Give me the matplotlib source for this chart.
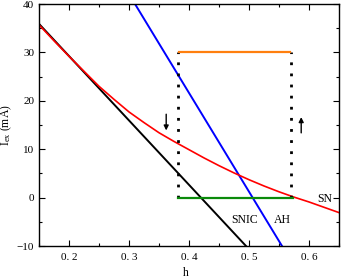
import matplotlib
matplotlib.use("Agg")
import matplotlib.pyplot as plt
from matplotlib.ticker import MultipleLocator

plt.rcParams["font.family"] = ["Liberation Serif", "DejaVu Serif"]
plt.rcParams["mathtext.fontset"] = "custom"
plt.rcParams["mathtext.rm"] = "Liberation Serif"
plt.rcParams["mathtext.it"] = "Liberation Serif"

# SNIC (black) and AH (blue) lines, end points
snic_h = [0.15, 0.495]
snic_i = [35.9, -10.0]
ah_h = [0.31, 0.555]
ah_i = [40.0, -10.0]

# SN curve (red)
sn_h = [0.150, 0.175, 0.200, 0.225, 0.250, 0.275, 0.300, 0.325, 0.350, 0.375,
        0.400, 0.425, 0.450, 0.475, 0.500, 0.525, 0.550, 0.575, 0.600, 0.625, 0.650]
sn_i = [35.7, 32.4, 29.2, 26.1, 23.0, 20.3, 17.7, 15.5, 13.4, 11.6,
        9.9, 8.2, 6.6, 5.1, 3.7, 2.4, 1.2, 0.1, -0.9, -2.0, -3.1]

# hysteresis loop
loop_left, loop_right = 0.381, 0.570
orange_h = [0.384, 0.568]
orange_i = [30, 30]
green_h = [0.381, 0.573]
green_i = [0, 0]

fig = plt.figure(figsize=(3.41, 2.78), dpi=100)
ax = fig.add_axes([39 / 341, 1 - 246 / 278, 300 / 341, 242 / 278])

ax.plot(snic_h, snic_i, color="black", lw=1.4)
ax.plot(ah_h, ah_i, color="blue", lw=1.4)
ax.plot(sn_h, sn_i, color="red", lw=1.2)
ax.plot([loop_left, loop_left], [0, 30], color="black", lw=2, ls=(0, (1, 3)))
ax.plot([loop_right, loop_right], [0, 30], color="black", lw=2, ls=(0, (1, 3)))
ax.plot(orange_h, orange_i, color="#ff7f0e", lw=1.6)
ax.plot(green_h, green_i, color="#0a8a0a", lw=1.6)

ax.annotate("", xy=(0.362, 13.3), xytext=(0.362, 17.8),
            arrowprops=dict(arrowstyle="-|>", color="black", lw=1, mutation_scale=7))
ax.annotate("", xy=(0.587, 17.2), xytext=(0.587, 12.8),
            arrowprops=dict(arrowstyle="-|>", color="black", lw=1, mutation_scale=7))

ax.text(0.493, -4.6, "SNIC", fontsize=8.5, ha="center", va="center")
ax.text(0.556, -4.6, "AH", fontsize=8.5, ha="center", va="center")
ax.text(0.627, -0.3, "SN", fontsize=8.5, ha="center", va="center")

ax.set_xlim(0.15, 0.65)
ax.set_ylim(-10, 40)
ax.xaxis.set_major_locator(MultipleLocator(0.1))
ax.xaxis.set_minor_locator(MultipleLocator(0.05))
ax.yaxis.set_major_locator(MultipleLocator(10))
ax.yaxis.set_minor_locator(MultipleLocator(5))
ax.tick_params(which="both", direction="in", top=True, right=True, labelsize=8, width=0.8)
ax.tick_params(which="major", length=4)
ax.tick_params(which="minor", length=2.5)
ax.tick_params(axis="x", pad=5)
ax.set_xticks([0.2, 0.3, 0.4, 0.5, 0.6])
ax.set_xticklabels(["0. 2", "0. 3", "0. 4", "0. 5", "0. 6"])
for s in ax.spines.values():
    s.set_linewidth(1)

ax.set_xlabel("h", fontsize=8.5)
ax.set_ylabel(r"I$_{\rm ex}$ (mA)", fontsize=8.5)
ax.xaxis.set_label_coords(0.49, -0.085)
ax.yaxis.set_label_coords(-0.082, 0.5)

fig.savefig("out.png", dpi=100)
